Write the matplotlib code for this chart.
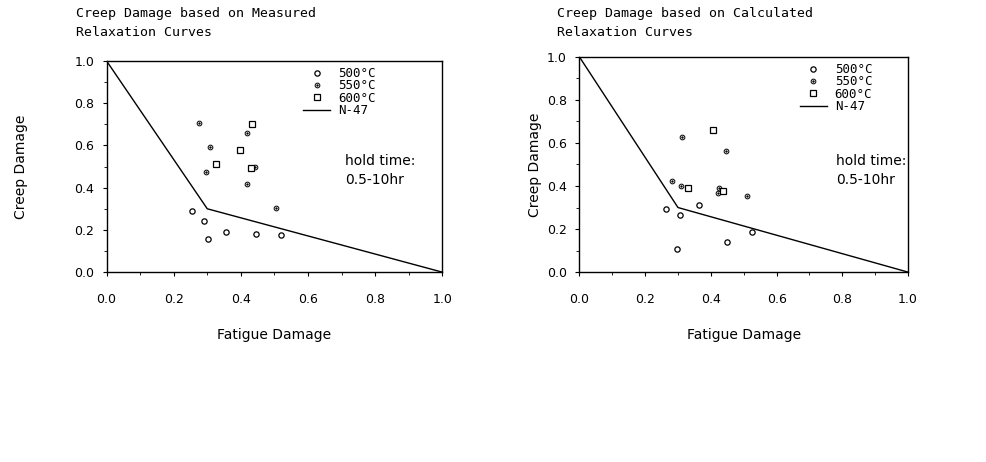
import matplotlib
matplotlib.use('Agg')
import matplotlib.pyplot as plt
from matplotlib.lines import Line2D

# measured relaxation curves (left panel)
meas_500_x = [0.255, 0.289, 0.302, 0.355, 0.445, 0.519]
meas_500_y = [0.290, 0.243, 0.156, 0.189, 0.182, 0.174]
meas_550_x = [0.276, 0.309, 0.297, 0.419, 0.419, 0.441, 0.504]
meas_550_y = [0.707, 0.593, 0.472, 0.659, 0.418, 0.498, 0.306]
meas_600_x = [0.432, 0.399, 0.326, 0.429]
meas_600_y = [0.702, 0.579, 0.510, 0.491]

# calculated relaxation curves (right panel)
calc_500_x = [0.263, 0.297, 0.305, 0.363, 0.450, 0.525]
calc_500_y = [0.294, 0.106, 0.267, 0.314, 0.141, 0.187]
calc_550_x = [0.283, 0.309, 0.312, 0.423, 0.426, 0.445, 0.511]
calc_550_y = [0.424, 0.400, 0.629, 0.368, 0.390, 0.562, 0.352]
calc_600_x = [0.330, 0.407, 0.437]
calc_600_y = [0.393, 0.658, 0.379]

# N-47 bilinear envelope
n47_x = [0.0, 0.3, 1.0]
n47_y = [1.0, 0.3, 0.0]

ticks = [0.0, 0.2, 0.4, 0.6, 0.8, 1.0]
tick_labels = ['0.0', '0.2', '0.4', '0.6', '0.8', '1.0']

MONO = 'DejaVu Sans Mono'


def draw_panel(ax, x500, y500, x550, y550, x600, y600, hold_pos, leg_x):
    ax.plot(n47_x, n47_y, color='black', lw=1.0)
    ax.plot(x500, y500, 'o', ms=3.8, mfc='white', mec='black', mew=0.9, ls='none')
    ax.plot(x550, y550, 'o', ms=3.4, mfc='white', mec='black', mew=0.7, ls='none')
    ax.plot(x550, y550, '.', ms=1.4, color='black', ls='none')
    ax.plot(x600, y600, 's', ms=3.8, mfc='white', mec='black', mew=0.9, ls='none')

    ax.set_xlim(0, 1.0)
    ax.set_ylim(0, 1.0)
    ax.set_xticks(ticks)
    ax.set_xticklabels(tick_labels)
    ax.set_yticks(ticks)
    ax.set_yticklabels(tick_labels)
    ax.set_xticks([0.1, 0.3, 0.5, 0.7, 0.9], minor=True)
    ax.set_yticks([0.1, 0.3, 0.5, 0.7, 0.9], minor=True)
    ax.tick_params(which='both', direction='out', labelsize=9, color='black')
    ax.tick_params(which='major', length=3, width=0.8, pad=6)
    ax.tick_params(which='minor', length=2, width=0.6)
    ax.tick_params(axis='x', pad=12)
    for sp in ax.spines.values():
        sp.set_linewidth(1.0)

    h500 = Line2D([], [], marker='o', ms=3.8, mfc='white', mec='black', mew=0.9, ls='none')
    h550 = (Line2D([], [], marker='o', ms=3.4, mfc='white', mec='black', mew=0.7, ls='none'),
            Line2D([], [], marker='.', ms=1.4, color='black', ls='none'))
    h600 = Line2D([], [], marker='s', ms=3.8, mfc='white', mec='black', mew=0.9, ls='none')
    hn47 = Line2D([], [], color='black', lw=1.0)
    ax.legend([h500, h550, h600, hn47], ['500°C', '550°C', '600°C', 'N-47'],
              loc='upper left', bbox_to_anchor=(leg_x, 0.995), frameon=False,
              prop={'family': MONO, 'size': 9}, handlelength=2.2,
              handletextpad=0.6, labelspacing=-0.05, borderaxespad=0)

    ax.text(hold_pos[0], hold_pos[1], 'hold time:\n0.5-10hr', transform=ax.transAxes,
            fontsize=10, va='top', ha='left', linespacing=1.5)

    ax.set_xlabel('Fatigue Damage', fontsize=10, labelpad=16)
    ax.set_ylabel('Creep Damage', fontsize=10)


fig = plt.figure(figsize=(9.87, 4.62), dpi=100)

ax1 = fig.add_axes([0.108, 0.411, 0.340, 0.457])
draw_panel(ax1, meas_500_x, meas_500_y, meas_550_x, meas_550_y,
           meas_600_x, meas_600_y, (0.71, 0.56), 0.57)
ax1.yaxis.set_label_coords(-0.235, 0.5)
fig.text(76 / 987, 1 - 7 / 462, 'Creep Damage based on Measured\nRelaxation Curves',
         family=MONO, fontsize=9.5, va='top', ha='left', linespacing=1.6)

ax2 = fig.add_axes([0.587, 0.411, 0.333, 0.466])
draw_panel(ax2, calc_500_x, calc_500_y, calc_550_x, calc_550_y,
           calc_600_x, calc_600_y, (0.78, 0.55), 0.655)
ax2.yaxis.set_label_coords(-0.115, 0.5)
fig.text(557 / 987, 1 - 7 / 462, 'Creep Damage based on Calculated\nRelaxation Curves',
         family=MONO, fontsize=9.5, va='top', ha='left', linespacing=1.6)

plt.savefig('out.png', dpi=100)
